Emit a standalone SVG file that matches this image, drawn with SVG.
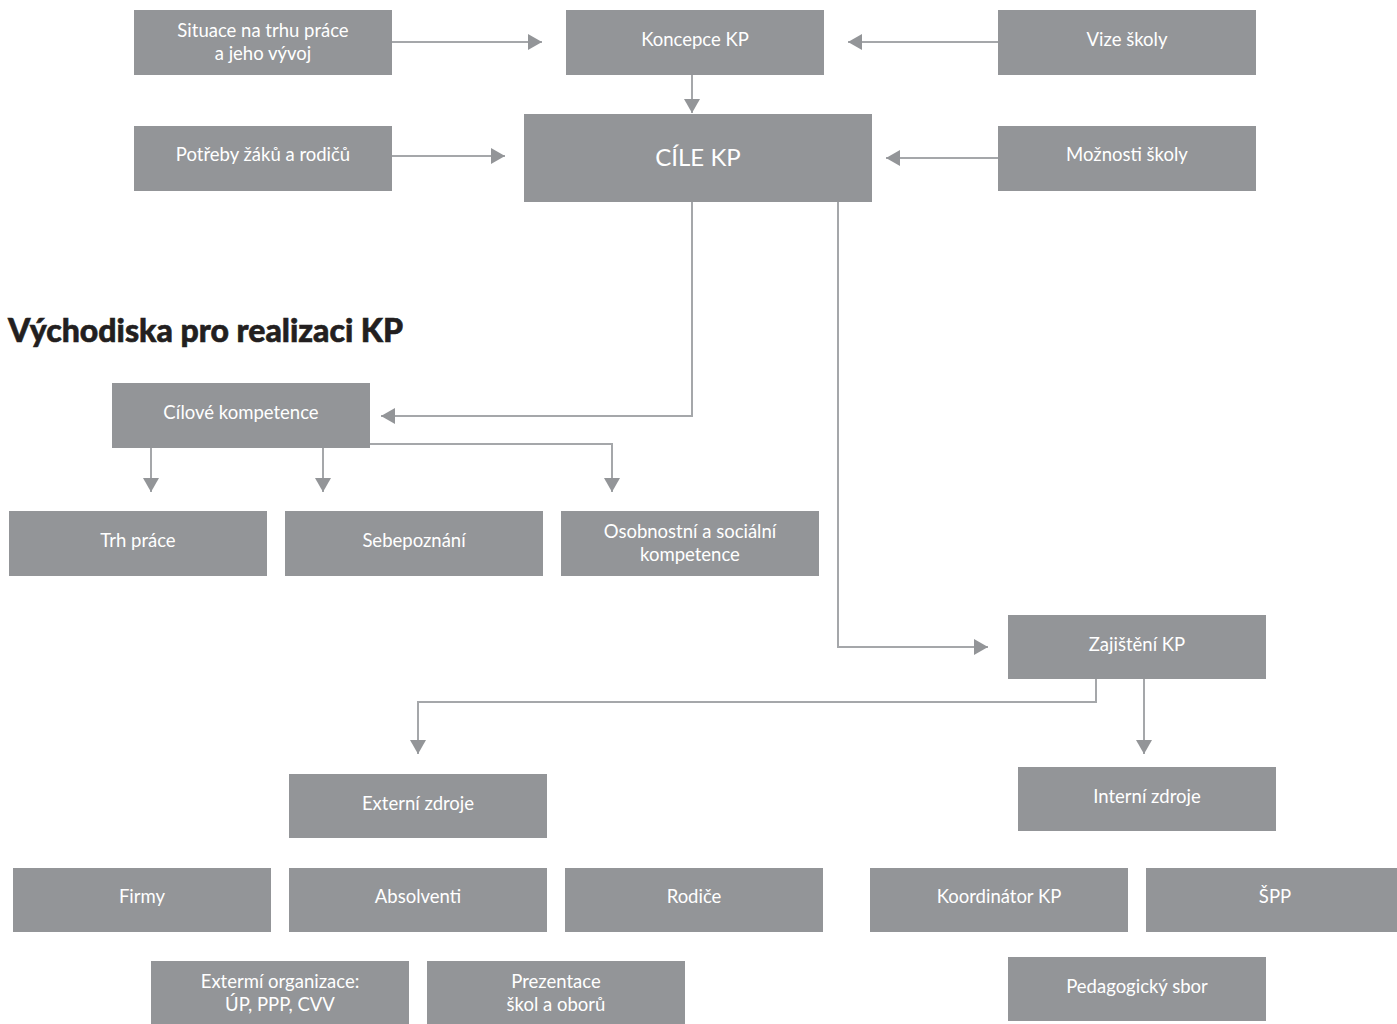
<svg xmlns="http://www.w3.org/2000/svg" width="1397" height="1024" viewBox="0 0 1397 1024">
<defs>
<style>
.box{fill:#939598}
.t{font-family:Lato,"Noto Sans","Liberation Sans",sans-serif;font-size:18.5px;fill:#ffffff;text-anchor:middle}
.big{font-size:24px}
.title{font-family:Lato,"Noto Sans","Liberation Sans",sans-serif;font-size:32px;font-weight:900;fill:#231f20;stroke:#231f20;stroke-width:0.6}
.c{fill:none;stroke:#a5a7aa;stroke-width:2;marker-end:url(#ah)}
</style>
<marker id="ah" viewBox="0 0 14 16" refX="14" refY="8" markerWidth="14" markerHeight="16" orient="auto" markerUnits="userSpaceOnUse">
<path d="M0,0 L14,8 L0,16 z" fill="#939598"/>
</marker>
</defs>
<rect width="1397" height="1024" fill="#ffffff"/>
<text class="title" x="8" y="342">Východiska pro realizaci KP</text>
<g id="connectors">
<path class="c" d="M392,42 H542"/>
<path class="c" d="M392,156 H505"/>
<path class="c" d="M998,42 H848"/>
<path class="c" d="M998,158 H886"/>
<path class="c" d="M692,75 V113"/>
<path class="c" d="M692,202 V416 H381"/>
<path class="c" d="M151,448 V492"/>
<path class="c" d="M323,448 V492"/>
<path class="c" d="M370,444 H612 V492"/>
<path class="c" d="M838,202 V647 H988"/>
<path class="c" d="M1096,679 V702 H418 V754"/>
<path class="c" d="M1144,679 V754"/>
</g>
<g id="situace"><rect class="box" x="134" y="10" width="258" height="65"/><text class="t" x="263" y="37">Situace na trhu práce</text><text class="t" x="263" y="60">a jeho vývoj</text></g>
<g id="koncepce"><rect class="box" x="566" y="10" width="258" height="65"/><text class="t" x="695" y="46">Koncepce KP</text></g>
<g id="vize"><rect class="box" x="998" y="10" width="258" height="65"/><text class="t" x="1127" y="46">Vize školy</text></g>
<g id="potreby"><rect class="box" x="134" y="126" width="258" height="65"/><text class="t" x="263" y="161">Potřeby žáků a rodičů</text></g>
<g id="cile"><rect class="box" x="524" y="114" width="348" height="88"/><text class="t big" x="698" y="166">CÍLE KP</text></g>
<g id="moznosti"><rect class="box" x="998" y="126" width="258" height="65"/><text class="t" x="1127" y="161">Možnosti školy</text></g>
<g id="cilove"><rect class="box" x="112" y="383" width="258" height="65"/><text class="t" x="241" y="419">Cílové kompetence</text></g>
<g id="trh"><rect class="box" x="9" y="511" width="258" height="65"/><text class="t" x="138" y="547">Trh práce</text></g>
<g id="sebepoznani"><rect class="box" x="285" y="511" width="258" height="65"/><text class="t" x="414" y="547">Sebepoznání</text></g>
<g id="osobnostni"><rect class="box" x="561" y="511" width="258" height="65"/><text class="t" x="690" y="538">Osobnostní a sociální</text><text class="t" x="690" y="561">kompetence</text></g>
<g id="zajisteni"><rect class="box" x="1008" y="615" width="258" height="64"/><text class="t" x="1137" y="651">Zajištění KP</text></g>
<g id="externi"><rect class="box" x="289" y="774" width="258" height="64"/><text class="t" x="418" y="810">Externí zdroje</text></g>
<g id="interni"><rect class="box" x="1018" y="767" width="258" height="64"/><text class="t" x="1147" y="803">Interní zdroje</text></g>
<g id="firmy"><rect class="box" x="13" y="868" width="258" height="64"/><text class="t" x="142" y="903">Firmy</text></g>
<g id="absolventi"><rect class="box" x="289" y="868" width="258" height="64"/><text class="t" x="418" y="903">Absolventi</text></g>
<g id="rodice"><rect class="box" x="565" y="868" width="258" height="64"/><text class="t" x="694" y="903">Rodiče</text></g>
<g id="koordinator"><rect class="box" x="870" y="868" width="258" height="64"/><text class="t" x="999" y="903">Koordinátor KP</text></g>
<g id="spp"><rect class="box" x="1146" y="868" width="258" height="64"/><text class="t" x="1275" y="903">ŠPP</text></g>
<g id="organizace"><rect class="box" x="151" y="961" width="258" height="64"/><text class="t" x="280" y="988">Extermí organizace:</text><text class="t" x="280" y="1011">ÚP, PPP, CVV</text></g>
<g id="prezentace"><rect class="box" x="427" y="961" width="258" height="64"/><text class="t" x="556" y="988">Prezentace</text><text class="t" x="556" y="1011">škol a oborů</text></g>
<g id="pedagogicky"><rect class="box" x="1008" y="957" width="258" height="64"/><text class="t" x="1137" y="993">Pedagogický sbor</text></g>
</svg>
